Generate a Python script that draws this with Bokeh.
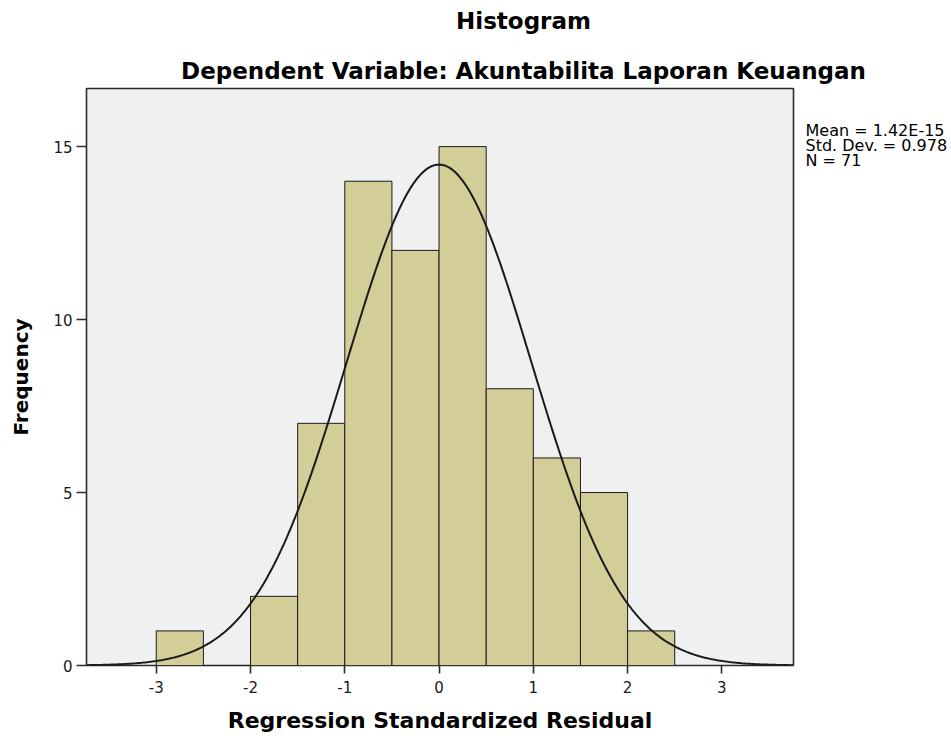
import numpy as np
from bokeh.plotting import figure
from bokeh.models import Range1d, FixedTicker, ColumnDataSource, LinearAxis
from bokeh.embed import file_html
from bokeh.resources import INLINE

# ---- data ----
bin_left = [-3.0, -2.5, -2.0, -1.5, -1.0, -0.5, 0.0, 0.5, 1.0, 1.5, 2.0]
bin_right = [-2.5, -2.0, -1.5, -1.0, -0.5, 0.0, 0.5, 1.0, 1.5, 2.0, 2.5]
frequency = [1, 0, 2, 7, 14, 12, 15, 8, 6, 5, 1]
x_ticks = [-3, -2, -1, 0, 1, 2, 3]
x_tick_labels = ["-3", "-2", "-1", "0", "1", "2", "3"]
y_ticks = [0, 5, 10, 15]
mean_val = 1.42e-15
std_val = 0.978
n_val = 71
bin_width = 0.5

title_text = "Histogram"
subtitle_text = "Dependent Variable: Akuntabilita Laporan Keuangan"
x_label = "Regression Standardized Residual"
y_label = "Frequency"
stats_lines = ["Mean = 1.42E-15", "Std. Dev. = 0.978", "N = 71"]

FONT = "DejaVu Sans"

x0, x1 = -3.74, 3.76
y0, y1 = 0.0, 16.68

# frame geometry in pixels
FL, FR, FT, FB = 86, 793, 88, 665
W, H = 951, 738
FW, FH = FR - FL, FB - FT

p = figure(width=W, height=H, output_backend="svg", toolbar_location=None,
           x_range=Range1d(x0, x1), y_range=Range1d(y0, y1),
           min_border_left=FL, min_border_right=W - FR, min_border_top=FT,
           min_border_bottom=H - FB)

p.background_fill_color = "#F0F0F0"
p.border_fill_color = "white"
p.outline_line_color = "#2b2b2b"
p.outline_line_width = 1.6
p.grid.visible = False

src = ColumnDataSource(dict(left=bin_left, right=bin_right, top=frequency,
                            bottom=[0] * len(frequency)))
p.quad(left="left", right="right", top="top", bottom="bottom", source=src,
       fill_color="#D3CE97", line_color="#1a1a1a", line_width=1)

xs = np.linspace(x0, x1, 400)
ys = n_val * bin_width * np.exp(-0.5 * ((xs - mean_val) / std_val) ** 2) / (std_val * np.sqrt(2 * np.pi))
p.line(xs, ys, line_color="#1a1a1a", line_width=2)

for ax, ticks in ((p.xaxis[0], x_ticks), (p.yaxis[0], y_ticks)):
    ax.ticker = FixedTicker(ticks=ticks)
    ax.axis_line_color = None
    ax.major_tick_in = 0
    ax.minor_tick_line_color = None
    ax.major_tick_line_color = "#2b2b2b"
    ax.major_tick_line_width = 1.6
    ax.major_label_text_font = FONT
    ax.major_label_text_font_size = "15px"
    ax.major_label_text_color = "#1a1a1a"
    ax.axis_label_text_font = FONT
    ax.axis_label_text_font_style = "bold"
    ax.axis_label_text_color = "black"

p.xaxis.major_label_overrides = {t: s for t, s in zip(x_ticks, x_tick_labels)}
p.xaxis.major_tick_out = 8
p.xaxis.major_label_standoff = 7
p.xaxis.axis_label = x_label
p.xaxis.axis_label_text_font_size = "22px"
p.xaxis.axis_label_standoff = 12
p.yaxis.major_tick_out = 10
p.yaxis.major_label_standoff = 4
p.yaxis.axis_label = y_label
p.yaxis.axis_label_text_font_size = "20px"
p.yaxis.axis_label_standoff = 17

# pixel-based helper ranges for the text outside the frame
TITLE_CX = 523  # horizontal centre of the titles, in pixels
p.extra_x_ranges = {"titlepx": Range1d(FL - TITLE_CX, FR - TITLE_CX)}
p.extra_y_ranges = {"statspx": Range1d(FH, 0)}


def text_axis(ax, labels, size, bold, standoff):
    ax.ticker = FixedTicker(ticks=list(labels.keys()))
    ax.major_label_overrides = labels
    ax.axis_line_color = None
    ax.major_tick_line_color = None
    ax.minor_tick_line_color = None
    ax.major_tick_in = 0
    ax.major_tick_out = 0
    ax.major_label_standoff = standoff
    ax.major_label_text_font = FONT
    ax.major_label_text_font_size = size
    ax.major_label_text_font_style = "bold" if bold else "normal"
    ax.major_label_text_color = "black"


# subtitle (closest to frame), then title above it
sub_ax = LinearAxis(x_range_name="titlepx")
text_axis(sub_ax, {0: subtitle_text}, "23px", True, 5)
p.add_layout(sub_ax, "above")
ttl_ax = LinearAxis(x_range_name="titlepx")
text_axis(ttl_ax, {0: title_text}, "23px", True, 21)
p.add_layout(ttl_ax, "above")

# statistics text to the right of the frame (rows in px below the frame top)
STATS_TOP, STATS_STEP = 130, 15
stat_rows = [STATS_TOP - FT + i * STATS_STEP for i in range(len(stats_lines))]
stats_ax = LinearAxis(y_range_name="statspx")
text_axis(stats_ax, {r: t for r, t in zip(stat_rows, stats_lines)}, "16px", False, 12)
p.add_layout(stats_ax, "right")

open("out.html", "w").write(file_html(p, INLINE))
